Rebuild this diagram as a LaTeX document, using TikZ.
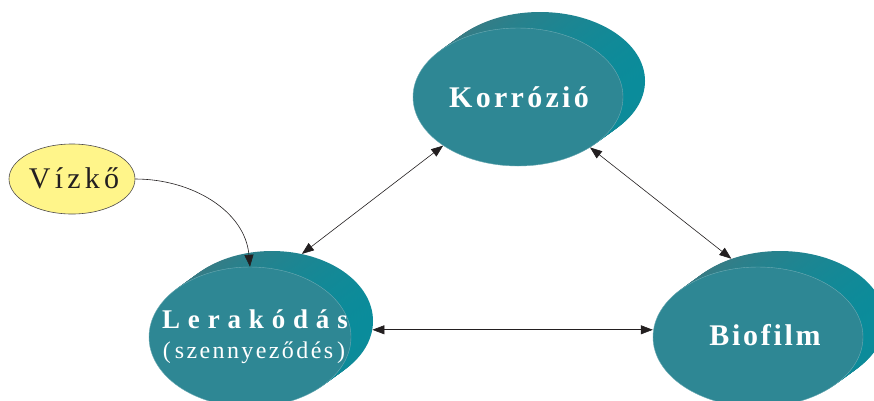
\documentclass[tikz,border=0pt]{standalone}
\usepackage{fontspec}
\setmainfont{Liberation Serif}
\usetikzlibrary{shapes.geometric,arrows.meta}
\definecolor{tealF}{RGB}{46,135,148}
\definecolor{sideL}{RGB}{66,120,128}
\definecolor{sideR}{RGB}{10,140,155}
\definecolor{vizY}{RGB}{255,245,138}
\definecolor{inkD}{RGB}{35,31,32}
\tikzset{
  faceell/.style={ellipse, fill=tealF, draw=tealF!70!white, line width=0.4pt, inner sep=0pt},
  backell/.style={ellipse, left color=sideL, right color=sideR, inner sep=0pt},
  vizell/.style={ellipse, fill=vizY, draw=inkD!80, line width=0.6pt, inner sep=0pt,
    minimum width=126pt, minimum height=70pt},
  tipT/.tip={Triangle[length=12pt,width=9pt]},
  conn/.style={draw=inkD, line width=0.6pt, tipT-tipT},
  oneway/.style={draw=inkD, line width=0.6pt, -tipT},
  boldlab/.style={text=white, anchor=base, inner sep=0pt},
  reglab/.style={anchor=base, inner sep=0pt}
}
% name, cx, cy, rx, ry
\newcommand\tealdisk[5]{%
  \node[backell, minimum width=2*#4 pt, minimum height=2*#5 pt] (#1B) at (#2+22,#3-16) {};
  \foreach \k in {14,...,1}{%
    \shade[left color=sideL, right color=sideR] (#2+22*\k/15,#3-16*\k/15) ellipse [x radius=#4, y radius=#5];
  }
  \node[faceell, minimum width=2*#4 pt, minimum height=2*#5 pt] (#1F) at (#2,#3) {};
}
\begin{document}
\begin{tikzpicture}[x=1pt,y=-1pt]
\path[use as bounding box] (0,0) rectangle (874,400);
\fill[white] (0,0) rectangle (874,400);

\tealdisk{kor}{518}{97}{105}{69}
\tealdisk{ler}{250}{337}{101}{70}
\tealdisk{bio}{758}{337}{105}{70}

\node[vizell] (viz) at (72,179) {};

\node[boldlab] (korT) at (519,107) {\fontsize{30}{32}\selectfont\addfontfeature{LetterSpace=11}\bfseries Korrózió};
\node[boldlab] (bioT) at (765,345) {\fontsize{30}{32}\selectfont\addfontfeature{LetterSpace=9}\bfseries Biofilm};
\node[boldlab] (lerT) at (255,328) {\fontsize{27}{29}\selectfont\addfontfeature{LetterSpace=29}\bfseries Lerakódás};
\node[boldlab] (lerS) at (254,358) {\fontsize{24}{26}\selectfont\addfontfeature{LetterSpace=10}(\,szennyeződés\,)};
\node[reglab, text=inkD] (vizT) at (74,188) {\fontsize{30}{32}\selectfont\addfontfeature{LetterSpace=14}Vízkő};

\draw[conn] (korF.213) -- (lerB.66);
\draw[conn] (korF.-35) -- (bioB.128);
\draw[conn] (lerB.-5) -- (lerB.-5 -| bioF.west);
\draw[oneway] (viz.east) to[out=0, in=95] (lerF.north);
\end{tikzpicture}
\end{document}
